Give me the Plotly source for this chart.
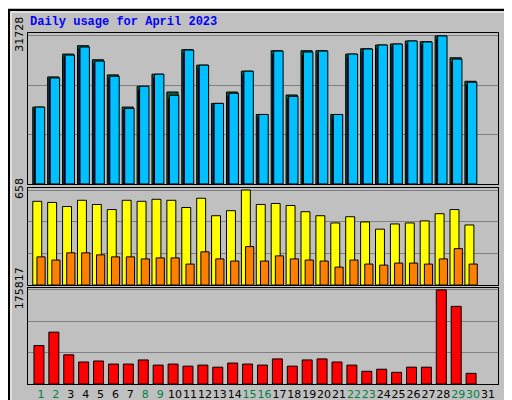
import plotly.graph_objects as go

days = list(range(1, 31))
weekend = [1, 2, 8, 9, 15, 16, 22, 23, 29, 30]

hits = [16476, 22736, 27629, 29356, 26334, 23096, 16189, 20937, 23528, 18995,
        28708, 25470, 17268, 19427, 24175, 14894, 28492, 18779, 28276, 28492,
        14894, 27845, 28924, 29787, 30003, 30651, 30435, 31728, 26765, 21801]
files = [16476, 22950, 27840, 29640, 26620, 23380, 16480, 20937, 23528, 19710,
         28780, 25470, 17268, 19710, 24175, 14894, 28560, 19070, 28560, 28560,
         14894, 27845, 28990, 29787, 30003, 30651, 30500, 31728, 27050, 22010]
pages = [16000, 22500, 27200, 28950, 25900, 22700, 15750, 20150, 22800, 18250,
         28000, 24780, 16800, 18900, 23450, 14300, 27800, 18200, 27600, 27800,
         14300, 27200, 28300, 29100, 29350, 29950, 29750, 31000, 26100, 21200]
visits = [580, 572, 544, 587, 558, 523, 587, 580, 594, 587, 537, 601, 480, 515, 658,
          558, 565, 551, 508, 480, 430, 473, 437, 387, 423, 430, 444, 494, 523, 416]
sites = [195, 173, 223, 223, 209, 195, 195, 181, 188, 188, 145, 230, 181, 166, 266,
         166, 202, 181, 173, 166, 124, 173, 145, 138, 152, 152, 145, 181, 252, 145]
kbytes = [71870, 96890, 54540, 41070, 42990, 37220, 37220, 44920, 35290, 37220,
          33370, 35290, 31440, 39140, 37220, 35290, 46840, 33370, 44920, 46840,
          41070, 35290, 23740, 27590, 21820, 31440, 31440, 175817, 145020, 19890]

fig = go.Figure()
line = dict(color="black", width=1)

def bar(y, color, off, w, n):
    fig.add_trace(go.Bar(x=days, y=y, offset=off, width=w, marker=dict(color=color, line=line),
                         xaxis="x" + n, yaxis="y" + n, showlegend=False, hoverinfo="y"))

bar(files, "#006040", -0.55, 0.75, "")
bar(pages, "#0000ff", -0.45, 0.3, "")
bar(hits, "#00c0ff", -0.38, 0.63, "")
bar(visits, "#ffff00", -0.55, 0.6, "2")
bar(sites, "#ff8000", -0.27, 0.55, "2")
bar(kbytes, "#ff0000", -0.47, 0.67, "3")

ticktext = [f"<span style='color:{'#008040' if d in weekend else 'black'}'>{d}</span>" for d in range(1, 32)]
xcommon = dict(range=[0.13, 31.67], domain=[0, 1], showgrid=False, showline=True, linecolor="black",
               mirror=True, zeroline=False, fixedrange=True, automargin=False)
fig.update_layout(
    xaxis=dict(xcommon, anchor="y", showticklabels=False, ticks=""),
    xaxis2=dict(xcommon, anchor="y2", showticklabels=False, ticks=""),
    xaxis3=dict(xcommon, anchor="y3", tickvals=list(range(1, 32)), ticktext=ticktext, ticks="",
                tickangle=0, tickfont=dict(family="DejaVu Sans", size=11)),
)

def yax(dom, mx, label, anchor):
    return dict(domain=dom, range=[0, mx * 1.02], anchor=anchor, tickvals=[mx / 3, 2 * mx / 3, mx],
                ticktext=["", "", label], tickangle=-90, showgrid=True, gridcolor="#808080",
                gridwidth=1, showline=True, linecolor="black", mirror=True, zeroline=False,
                automargin=False, fixedrange=True,
                tickfont=dict(family="DejaVu Sans", size=11, color="black"), ticks="")

fig.update_layout(
    yaxis=yax([0.570, 1], 31728, "31728", "x"),
    yaxis2=yax([0.282, 0.558], 658, "658", "x2"),
    yaxis3=yax([0, 0.2735], 175817, "175817", "x3"),
)

fig.update_layout(
    width=512, height=400, barmode="overlay",
    margin=dict(l=20, r=22, t=25, b=24, autoexpand=False),
    paper_bgcolor="#c0c0c0", plot_bgcolor="#c0c0c0",
    annotations=[
        dict(text="<b>Daily usage for April 2023</b>", x=0, y=1.005, xref="paper", yref="paper",
             xanchor="left", yanchor="bottom", showarrow=False,
             font=dict(family="Liberation Mono", size=12, color="#0000ff")),
        dict(text="<span style='color:#00c0ff'>Pages</span> / <span style='color:#0000ff'>Files</span>"
                  " / <span style='color:#008040'>Hits</span>",
             x=481 / 470, y=0.79, xref="paper", yref="paper", xanchor="center", textangle=-90,
             showarrow=False, font=dict(family="DejaVu Sans Mono", size=11, color="black")),
        dict(text="<span style='color:#ff8000'>Sites</span> / <span style='color:#ffff00'>Visits</span>",
             x=481 / 470, y=0.40, xref="paper", yref="paper", xanchor="center", textangle=-90,
             showarrow=False, font=dict(family="DejaVu Sans Mono", size=11, color="black")),
        dict(text="KBytes", x=481 / 470, y=0.0, xref="paper", yref="paper", xanchor="center",
             yanchor="bottom", textangle=-90, showarrow=False,
             font=dict(family="DejaVu Sans Mono", size=11, color="#ff0000")),
    ],
    shapes=[
        dict(type="rect", xref="paper", yref="paper", x0=-19 / 470, x1=490 / 470, y0=-22 / 351,
             y1=374 / 351, line=dict(color="black", width=2)),
        dict(type="rect", xref="paper", yref="paper", x0=-17 / 470, x1=488 / 470, y0=-20 / 351,
             y1=372 / 351, line=dict(color="white", width=1)),
    ],
)

fig.write_html("out.html")
